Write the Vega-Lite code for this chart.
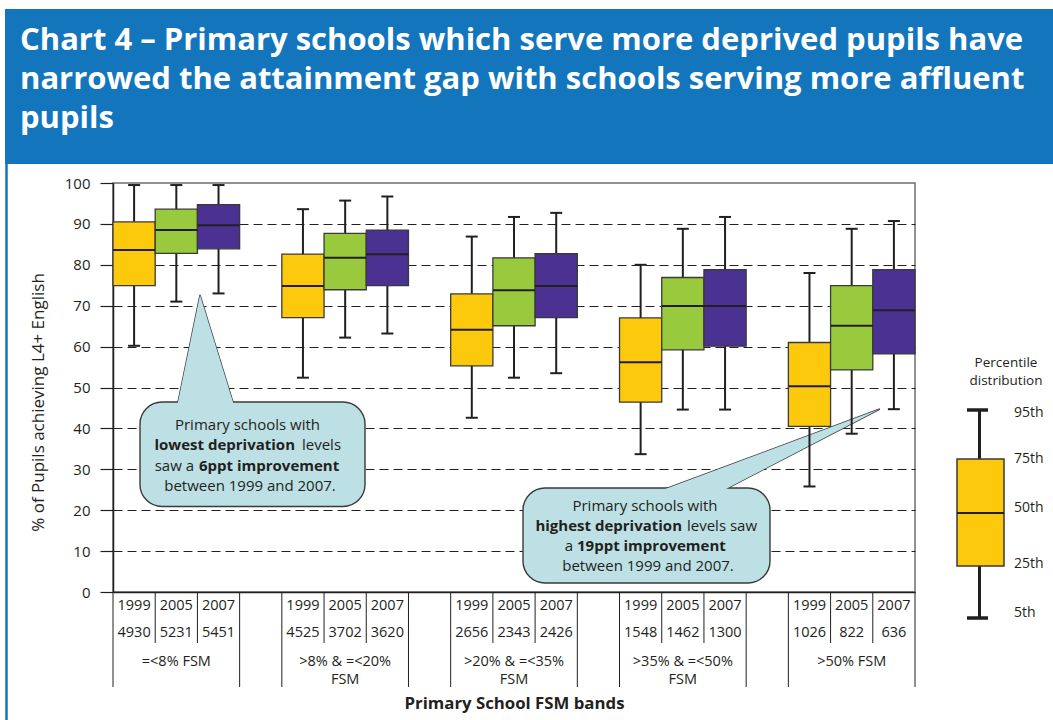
{
  "$schema": "https://vega.github.io/schema/vega-lite/v6.json",
  "width": 802,
  "height": 409,
  "autosize": {"type": "none"},
  "padding": {"left": 113, "top": 183, "right": 138, "bottom": 128},
  "background": "#ffffff",
  "config": {"font": "Open Sans", "view": {"stroke": "#6d6e71", "strokeWidth": 1.5}},
  "datasets": {
    "boxes": [
      {"band": "=<8% FSM", "year": "1999", "n": 4930, "p5": 60.2, "p25": 74.9, "p50": 83.6, "p75": 90.5, "p95": 99.5},
      {"band": "=<8% FSM", "year": "2005", "n": 5231, "p5": 71.0, "p25": 82.8, "p50": 88.5, "p75": 93.6, "p95": 99.5},
      {"band": "=<8% FSM", "year": "2007", "n": 5451, "p5": 73.0, "p25": 83.9, "p50": 89.7, "p75": 94.7, "p95": 99.5},
      {"band": ">8% & =<20% FSM", "year": "1999", "n": 4525, "p5": 52.4, "p25": 67.1, "p50": 74.8, "p75": 82.6, "p95": 93.6},
      {"band": ">8% & =<20% FSM", "year": "2005", "n": 3702, "p5": 62.2, "p25": 73.9, "p50": 81.7, "p75": 87.7, "p95": 95.7},
      {"band": ">8% & =<20% FSM", "year": "2007", "n": 3620, "p5": 63.2, "p25": 74.9, "p50": 82.6, "p75": 88.5, "p95": 96.7},
      {"band": ">20% & =<35% FSM", "year": "1999", "n": 2656, "p5": 42.6, "p25": 55.3, "p50": 64.1, "p75": 72.9, "p95": 86.9},
      {"band": ">20% & =<35% FSM", "year": "2005", "n": 2343, "p5": 52.4, "p25": 65.1, "p50": 73.8, "p75": 81.7, "p95": 91.7},
      {"band": ">20% & =<35% FSM", "year": "2007", "n": 2426, "p5": 53.5, "p25": 67.1, "p50": 74.8, "p75": 82.7, "p95": 92.7},
      {"band": ">35% & =<50% FSM", "year": "1999", "n": 1548, "p5": 33.7, "p25": 46.4, "p50": 56.2, "p75": 67.0, "p95": 80.0},
      {"band": ">35% & =<50% FSM", "year": "2005", "n": 1462, "p5": 44.6, "p25": 59.2, "p50": 69.9, "p75": 76.9, "p95": 88.8},
      {"band": ">35% & =<50% FSM", "year": "2007", "n": 1300, "p5": 44.6, "p25": 60.1, "p50": 69.9, "p75": 78.8, "p95": 91.7},
      {"band": ">50% FSM", "year": "1999", "n": 1026, "p5": 25.8, "p25": 40.5, "p50": 50.3, "p75": 61.0, "p95": 78.0},
      {"band": ">50% FSM", "year": "2005", "n": 822, "p5": 38.7, "p25": 54.3, "p50": 65.1, "p75": 74.9, "p95": 88.8},
      {"band": ">50% FSM", "year": "2007", "n": 636, "p5": 44.7, "p25": 58.2, "p50": 68.9, "p75": 78.8, "p95": 90.7}
    ],
    "bands": [
      {"band": "=<8% FSM", "label": ["=<8% FSM"]},
      {"band": ">8% & =<20% FSM", "label": [">8% & =<20%", "FSM"]},
      {"band": ">20% & =<35% FSM", "label": [">20% & =<35%", "FSM"]},
      {"band": ">35% & =<50% FSM", "label": [">35% & =<50%", "FSM"]},
      {"band": ">50% FSM", "label": [">50% FSM"]}
    ],
    "one": [{}]
  },
  "layer": [
    {
      "data": {"name": "one"},
      "layer": [
        {"mark": {"type": "rect", "fill": "#1375BC"},
         "encoding": {"x": {"datum": -2.5586, "scale": {"domain": [0, 19], "nice": false, "zero": false}, "axis": null}, "x2": {"datum": 22.3}, "y": {"datum": 142.54}, "y2": {"datum": 104.65}}},
        {"mark": {"type": "text", "align": "left", "baseline": "alphabetic", "font": "Open Sans", "fontWeight": "bold", "fontSize": 31, "lineHeight": 39, "color": "#ffffff",
                  "text": ["Chart 4 – Primary schools which serve more deprived pupils have", "narrowed the attainment gap with schools serving more affluent", "pupils"]},
         "encoding": {"x": {"datum": -2.2032, "axis": null}, "y": {"datum": 132.52}}},
        {"mark": {"type": "rule", "color": "#1375BC", "strokeWidth": 2.5},
         "encoding": {"x": {"datum": -2.5231, "axis": null}, "y": {"datum": 104.65}, "y2": {"datum": -31.3}}},

        {"mark": {"type": "point", "shape": "M0,0L-22.6,110L33.9,110Z", "size": 4, "filled": true, "fill": "#BDE0E5", "stroke": "#3a3a3a", "strokeWidth": 1.4, "opacity": 1},
         "encoding": {"x": {"datum": 2.0611, "axis": null}, "y": {"datum": 72.62}}},
        {"mark": {"type": "rect", "fill": "#BDE0E5", "stroke": "#3a3a3a", "strokeWidth": 1.4, "cornerRadius": 22},
         "encoding": {"x": {"datum": 0.6397, "axis": null}, "x2": {"datum": 5.9701}, "y": {"datum": 46.45}, "y2": {"datum": 20.9}}},
        {"mark": {"type": "point", "shape": "M0,0L-22.6,110L33.9,110Z", "size": 4, "filled": true, "fill": "#BDE0E5", "stroke": null, "opacity": 1},
         "encoding": {"x": {"datum": 2.0611, "axis": null}, "y": {"datum": 72.62}}},
        {"mark": {"type": "text", "align": "center", "baseline": "alphabetic", "fontSize": 15, "color": "#231f20", "text": "Primary schools with"},
         "encoding": {"x": {"datum": 3.1864, "axis": null}, "y": {"datum": 39.61}}},
        {"mark": {"type": "text", "align": "right", "baseline": "alphabetic", "fontSize": 15, "fontWeight": "bold", "color": "#231f20", "text": "lowest deprivation"},
         "encoding": {"x": {"datum": 4.3117, "axis": null}, "y": {"datum": 34.72}}},
        {"mark": {"type": "text", "align": "left", "baseline": "alphabetic", "fontSize": 15, "color": "#231f20", "text": "levels"},
         "encoding": {"x": {"datum": 4.4775, "axis": null}, "y": {"datum": 34.72}}},
        {"mark": {"type": "text", "align": "right", "baseline": "alphabetic", "fontSize": 15, "color": "#231f20", "text": "saw a"},
         "encoding": {"x": {"datum": 1.919, "axis": null}, "y": {"datum": 29.58}}},
        {"mark": {"type": "text", "align": "left", "baseline": "alphabetic", "fontSize": 15, "fontWeight": "bold", "color": "#231f20", "text": "6ppt improvement"},
         "encoding": {"x": {"datum": 2.0374, "axis": null}, "y": {"datum": 29.58}}},
        {"mark": {"type": "text", "align": "center", "baseline": "alphabetic", "fontSize": 15, "color": "#231f20", "text": "between 1999 and 2007."},
         "encoding": {"x": {"datum": 3.2456, "axis": null}, "y": {"datum": 24.69}}},

        {"mark": {"type": "point", "shape": "M0,0L-220,82L-157.8,82Z", "size": 4, "filled": true, "fill": "#BDE0E5", "stroke": "#3a3a3a", "strokeWidth": 1.4, "opacity": 1},
         "encoding": {"x": {"datum": 18.1671, "axis": null}, "y": {"datum": 44.74}}},
        {"mark": {"type": "rect", "fill": "#BDE0E5", "stroke": "#3a3a3a", "strokeWidth": 1.4, "cornerRadius": 22},
         "encoding": {"x": {"datum": 9.7132, "axis": null}, "x2": {"datum": 15.5649}, "y": {"datum": 25.43}, "y2": {"datum": 2.2}}},
        {"mark": {"type": "point", "shape": "M0,0L-220,82L-157.8,82Z", "size": 4, "filled": true, "fill": "#BDE0E5", "stroke": null, "opacity": 1},
         "encoding": {"x": {"datum": 18.1671, "axis": null}, "y": {"datum": 44.74}}},
        {"mark": {"type": "text", "align": "center", "baseline": "alphabetic", "fontSize": 15, "color": "#231f20", "text": "Primary schools with"},
         "encoding": {"x": {"datum": 12.6033, "axis": null}, "y": {"datum": 19.88}}},
        {"mark": {"type": "text", "align": "right", "baseline": "alphabetic", "fontSize": 15, "fontWeight": "bold", "color": "#231f20", "text": "highest deprivation"},
         "encoding": {"x": {"datum": 13.48, "axis": null}, "y": {"datum": 14.99}}},
        {"mark": {"type": "text", "align": "left", "baseline": "alphabetic", "fontSize": 15, "color": "#231f20", "text": "levels saw"},
         "encoding": {"x": {"datum": 13.5984, "axis": null}, "y": {"datum": 14.99}}},
        {"mark": {"type": "text", "align": "right", "baseline": "alphabetic", "fontSize": 15, "color": "#231f20", "text": "a"},
         "encoding": {"x": {"datum": 10.8978, "axis": null}, "y": {"datum": 10.02}}},
        {"mark": {"type": "text", "align": "left", "baseline": "alphabetic", "fontSize": 15, "fontWeight": "bold", "color": "#231f20", "text": "19ppt improvement"},
         "encoding": {"x": {"datum": 10.9925, "axis": null}, "y": {"datum": 10.02}}},
        {"mark": {"type": "text", "align": "center", "baseline": "alphabetic", "fontSize": 15, "color": "#231f20", "text": "between 1999 and 2007."},
         "encoding": {"x": {"datum": 12.6744, "axis": null}, "y": {"datum": 5.13}}},

        {"mark": {"type": "text", "align": "center", "baseline": "alphabetic", "fontSize": 13.5, "lineHeight": 18, "color": "#231f20", "text": ["Percentile", "distribution"]},
         "encoding": {"x": {"datum": 21.1556, "axis": null}, "y": {"datum": 55.01}}},
        {"mark": {"type": "rule", "color": "#231f20", "strokeWidth": 3},
         "encoding": {"x": {"datum": 20.5282, "axis": null}, "y": {"datum": 44.5}, "y2": {"datum": -6.36}}},
        {"mark": {"type": "rule", "color": "#231f20", "strokeWidth": 3.5},
         "encoding": {"x": {"datum": 20.2319, "axis": null}, "x2": {"datum": 20.7294}, "y": {"datum": 44.5}}},
        {"mark": {"type": "rule", "color": "#231f20", "strokeWidth": 3.5},
         "encoding": {"x": {"datum": 20.2319, "axis": null}, "x2": {"datum": 20.7294}, "y": {"datum": -6.36}}},
        {"mark": {"type": "rect", "fill": "#FCC90D", "stroke": "#3a3a3a", "strokeWidth": 1.5},
         "encoding": {"x": {"datum": 19.995, "axis": null}, "x2": {"datum": 21.1085}, "y": {"datum": 32.52}, "y2": {"datum": 6.36}}},
        {"mark": {"type": "rule", "color": "#231f20", "strokeWidth": 2},
         "encoding": {"x": {"datum": 19.995, "axis": null}, "x2": {"datum": 21.1085}, "y": {"datum": 19.32}}},
        {"mark": {"type": "text", "align": "left", "baseline": "middle", "fontSize": 14, "color": "#231f20", "text": "95th"},
         "encoding": {"x": {"datum": 21.3454, "axis": null}, "y": {"datum": 43.84}}},
        {"mark": {"type": "text", "align": "left", "baseline": "middle", "fontSize": 14, "color": "#231f20", "text": "75th"},
         "encoding": {"x": {"datum": 21.3454, "axis": null}, "y": {"datum": 32.52}}},
        {"mark": {"type": "text", "align": "left", "baseline": "middle", "fontSize": 14, "color": "#231f20", "text": "50th"},
         "encoding": {"x": {"datum": 21.3454, "axis": null}, "y": {"datum": 20.46}}},
        {"mark": {"type": "text", "align": "left", "baseline": "middle", "fontSize": 14, "color": "#231f20", "text": "25th"},
         "encoding": {"x": {"datum": 21.3454, "axis": null}, "y": {"datum": 6.85}}},
        {"mark": {"type": "text", "align": "left", "baseline": "middle", "fontSize": 14, "color": "#231f20", "text": "5th"},
         "encoding": {"x": {"datum": 21.3454, "axis": null}, "y": {"datum": -5.06}}}
      ]
    },
    {
      "layer": [
        {
          "data": {"name": "boxes"},
          "encoding": {
            "x": {"field": "band", "type": "nominal", "sort": null,
                  "scale": {"domain": ["=<8% FSM", ">8% & =<20% FSM", ">20% & =<35% FSM", ">35% & =<50% FSM", ">50% FSM"], "paddingInner": 0.25, "paddingOuter": 0},
                  "axis": {"labels": false, "ticks": false, "domain": true, "domainColor": "#231f20", "domainWidth": 1.5, "grid": false,
                           "title": "Primary School FSM bands", "titleFont": "Open Sans", "titleFontSize": 16.8, "titleFontWeight": "bold", "titleColor": "#231f20", "titlePadding": 103}},
            "xOffset": {"field": "year", "type": "nominal", "scale": {"domain": ["1999", "2005", "2007"], "paddingInner": 0, "paddingOuter": 0}}
          },
          "layer": [
            {"mark": {"type": "rule", "color": "#231f20", "strokeWidth": 2},
             "encoding": {
               "y": {"field": "p5", "type": "quantitative", "scale": {"domain": [0, 100], "nice": false, "zero": true},
                     "axis": {"values": [0, 10, 20, 30, 40, 50, 60, 70, 80, 90, 100], "grid": true,
                              "gridColor": {"condition": {"test": "datum.value == 100 || datum.value == 0", "value": "transparent"}, "value": "#231f20"},
                              "gridDash": [9, 5], "gridWidth": 1.2,
                              "domainColor": "#231f20", "domainWidth": 1.5, "tickColor": "#231f20", "tickSize": 13, "tickWidth": 1.2,
                              "labelFont": "Open Sans", "labelFontSize": 15, "labelColor": "#231f20", "labelPadding": 10,
                              "title": "% of Pupils achieving L4+ English", "titleFont": "Open Sans", "titleFontSize": 17, "titleFontWeight": "normal",
                              "titleColor": "#231f20", "titlePadding": 17, "titleY": 219}},
               "y2": {"field": "p95"}}},
            {"mark": {"type": "bar", "stroke": "#3a3a3a", "strokeWidth": 1.3},
             "encoding": {
               "y": {"field": "p25", "type": "quantitative"},
               "y2": {"field": "p75"},
               "color": {"field": "year", "type": "nominal", "scale": {"domain": ["1999", "2005", "2007"], "range": ["#FCC90D", "#99C93C", "#4B3191"]}, "legend": null}}},
            {"mark": {"type": "tick", "color": "#231f20", "size": 42, "thickness": 2, "opacity": 1},
             "encoding": {"y": {"field": "p50", "type": "quantitative"}}},
            {"mark": {"type": "tick", "color": "#231f20", "size": 12, "thickness": 2, "opacity": 1},
             "encoding": {"y": {"field": "p5", "type": "quantitative"}}},
            {"mark": {"type": "tick", "color": "#231f20", "size": 12, "thickness": 2, "opacity": 1},
             "encoding": {"y": {"field": "p95", "type": "quantitative"}}},
            {"mark": {"type": "text", "fontSize": 14.5, "color": "#231f20", "baseline": "middle"},
             "encoding": {"y": {"datum": -3.42}, "text": {"field": "year", "type": "nominal"}}},
            {"mark": {"type": "text", "fontSize": 14.5, "color": "#231f20", "baseline": "middle"},
             "encoding": {"y": {"datum": -10.02}, "text": {"field": "n", "type": "nominal"}}}
          ]
        },
        {
          "data": {"name": "bands"},
          "layer": [
            {"mark": {"type": "rule", "color": "#231f20", "strokeWidth": 1},
             "encoding": {"x": {"field": "band", "type": "nominal", "sort": null, "bandPosition": 0, "scale": {"domain": ["=<8% FSM", ">8% & =<20% FSM", ">20% & =<35% FSM", ">35% & =<50% FSM", ">50% FSM"], "paddingInner": 0.25, "paddingOuter": 0}},
                          "y": {"datum": 0}, "y2": {"datum": -23.23}}},
            {"mark": {"type": "rule", "color": "#231f20", "strokeWidth": 1},
             "encoding": {"x": {"field": "band", "type": "nominal", "sort": null, "bandPosition": 1},
                          "y": {"datum": 0}, "y2": {"datum": -23.23}}},
            {"mark": {"type": "rule", "color": "#231f20", "strokeWidth": 1},
             "encoding": {"x": {"field": "band", "type": "nominal", "sort": null, "bandPosition": 0.33333},
                          "y": {"datum": 0}, "y2": {"datum": -12.47}}},
            {"mark": {"type": "rule", "color": "#231f20", "strokeWidth": 1},
             "encoding": {"x": {"field": "band", "type": "nominal", "sort": null, "bandPosition": 0.66667},
                          "y": {"datum": 0}, "y2": {"datum": -12.47}}},
            {"mark": {"type": "text", "fontSize": 14.5, "color": "#231f20", "baseline": "alphabetic", "lineHeight": 18},
             "encoding": {"x": {"field": "band", "type": "nominal", "sort": null},
                          "y": {"datum": -18.09}, "text": {"field": "label", "type": "nominal"}}}
          ]
        }
      ]
    }
  ],
  "resolve": {"scale": {"x": "independent"}}
}
